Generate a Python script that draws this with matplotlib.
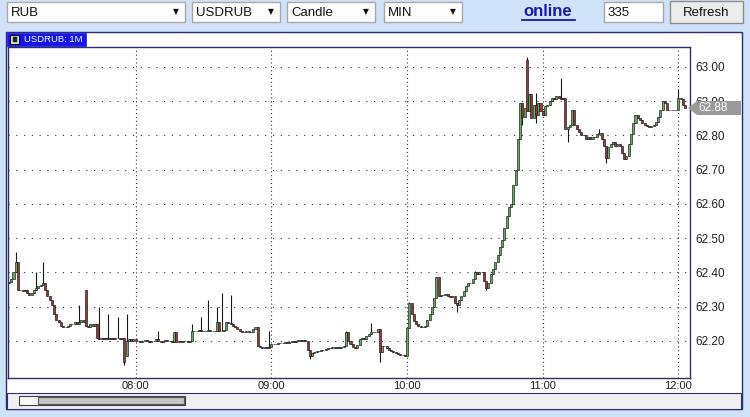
import numpy as np
import pandas as pd
import matplotlib
matplotlib.use("Agg")
from matplotlib import pyplot as plt
import matplotlib.dates as mdates
from matplotlib.patches import Rectangle, Polygon
from matplotlib.transforms import blended_transform_factory

plt.rcParams["font.family"] = ["Liberation Sans", "DejaVu Sans"]

# 1-minute USDRUB closes from 07:04
closes = [
    62.372, 62.38, 62.40, 62.43, 62.35, 62.35, 62.345, 62.35, 62.34, 62.333,
    62.34, 62.35, 62.355, 62.36, 62.362, 62.37, 62.35, 62.33, 62.32, 62.305,
    62.28, 62.26, 62.255, 62.245, 62.24, 62.24, 62.245, 62.25, 62.25, 62.255,
    62.25, 62.255, 62.26, 62.255, 62.245, 62.24, 62.25, 62.245, 62.25, 62.21,
    62.205, 62.21, 62.205, 62.21, 62.205, 62.21, 62.205, 62.21, 62.21, 62.205,
    62.21, 62.14, 62.20, 62.205, 62.20, 62.205, 62.20, 62.20, 62.198, 62.20,
    62.202, 62.20, 62.198, 62.20, 62.20, 62.205, 62.20, 62.198, 62.20, 62.202,
    62.20, 62.20, 62.198, 62.225, 62.197, 62.20, 62.198, 62.20, 62.20, 62.198,
    62.20, 62.23, 62.228, 62.23, 62.232, 62.23, 62.228, 62.23, 62.232, 62.23,
    62.228, 62.23, 62.255, 62.228, 62.23, 62.232, 62.255, 62.252, 62.25, 62.245,
    62.24, 62.235, 62.23, 62.226, 62.226, 62.228, 62.225, 62.226, 62.235, 62.24,
    62.185, 62.182, 62.18, 62.182, 62.18, 62.182, 62.19, 62.192, 62.19, 62.195,
    62.193, 62.195, 62.197, 62.195, 62.198, 62.20, 62.198, 62.20, 62.202, 62.20,
    62.203, 62.20, 62.175, 62.155, 62.165, 62.168, 62.17, 62.172, 62.175, 62.175,
    62.178, 62.18, 62.18, 62.182, 62.18, 62.182, 62.18, 62.182, 62.185, 62.225,
    62.20, 62.19, 62.183, 62.18, 62.188, 62.205, 62.21, 62.205, 62.215, 62.22,
    62.225, 62.227, 62.226, 62.235, 62.168, 62.185, 62.185, 62.18, 62.175, 62.17,
    62.168, 62.165, 62.163, 62.16, 62.158, 62.155, 62.238, 62.31, 62.28, 62.258,
    62.25, 62.245, 62.242, 62.24, 62.245, 62.26, 62.28, 62.30, 62.325, 62.388,
    62.33, 62.335, 62.333, 62.336, 62.33, 62.328, 62.33, 62.31, 62.305, 62.32,
    62.33, 62.345, 62.36, 62.37, 62.37, 62.38, 62.40, 62.395, 62.40, 62.40,
    62.375, 62.355, 62.37, 62.395, 62.41, 62.43, 62.45, 62.475, 62.495, 62.53,
    62.565, 62.59, 62.60, 62.655, 62.70, 62.79, 62.895, 62.855, 62.88, 62.87,
    62.92, 62.85, 62.89, 62.86, 62.895, 62.87, 62.86, 62.885, 62.89, 62.90,
    62.91, 62.905, 62.915, 62.91, 62.905, 62.91, 62.82, 62.825, 62.83, 62.875,
    62.83, 62.82, 62.81, 62.80, 62.80, 62.79, 62.795, 62.79, 62.795, 62.795,
    62.805, 62.808, 62.79, 62.77, 62.735, 62.765, 62.775, 62.78, 62.77, 62.775,
    62.77, 62.75, 62.73, 62.74, 62.775, 62.805, 62.835, 62.86, 62.85, 62.845,
    62.835, 62.83, 62.826, 62.824, 62.828, 62.83, 62.84, 62.855, 62.875, 62.90,
    62.895, 62.875, 62.875, 62.873, 62.875, 62.875, 62.91, 62.905, 62.89, 62.88,
]

# opens that gap away from the previous close
gap_opens = {0: 62.368, 34: 62.35, 52: 62.155, 164: 62.235, 229: 63.02}

# long wicks (index -> price)
wick_highs = {3: 62.46, 12: 62.40, 15: 62.43, 31: 62.305, 40: 62.30, 44: 62.28,
              48: 62.27, 52: 62.28, 66: 62.23, 81: 62.25, 85: 62.27, 88: 62.32,
              92: 62.30, 94: 62.34, 98: 62.335, 115: 62.23, 149: 62.23,
              160: 62.253, 177: 62.315, 206: 62.405, 229: 63.03, 233: 62.925,
              244: 62.968, 261: 62.82, 296: 62.935}
wick_lows = {51: 62.13, 133: 62.148, 164: 62.14, 198: 62.285, 211: 62.35,
             227: 62.83, 233: 62.835, 247: 62.78, 264: 62.72}

price_ticks = [62.2, 62.3, 62.4, 62.5, 62.6, 62.7, 62.8, 62.9, 63.0]
hour_ticks = ["08:00", "09:00", "10:00", "11:00", "12:00"]

BG = "#cfe2fa"
NAVY = "#2e2e6e"
GREEN = "#5fae5f"
RED = "#9a3a36"

times = pd.date_range("2015-01-01 07:04", periods=len(closes), freq="min")
x = mdates.date2num(times)
closes = np.array(closes)
opens = np.r_[closes[0], closes[:-1]]
for k, v in gap_opens.items():
    opens[k] = v
highs = np.maximum(opens, closes)
lows = np.minimum(opens, closes)
for k, v in wick_highs.items():
    highs[k] = v
for k, v in wick_lows.items():
    lows[k] = v

W, H = 750, 417
fig = plt.figure(figsize=(W / 100, H / 100), dpi=100)
fig.patch.set_facecolor(BG)

# background / widgets layer in pixel coords
bg = fig.add_axes([0, 0, 1, 1], zorder=0)
bg.set_xlim(0, W)
bg.set_ylim(H, 0)
bg.axis("off")


def box(x0, y0, w, h, fc="white", ec="#a9a9a9", lw=1.0, z=1):
    bg.add_patch(Rectangle((x0, y0), w, h, facecolor=fc, edgecolor=ec, lw=lw, zorder=z))


# header controls
for (x0, w, label) in [(7, 178, "RUB"), (192, 88, "USDRUB"), (287, 88, "Candle"), (384, 78, "MIN")]:
    box(x0, 2, w, 20)
    bg.text(x0 + 4, 12.5, label, fontsize=9.5, va="center", ha="left", color="#111")
    bg.text(x0 + w - 9, 12, "\u25bc", fontsize=5.5, va="center", ha="center",
            color="#111", family="DejaVu Sans")
bg.text(548, 11, "online", fontsize=12, fontweight="bold", color="#1a1aa6",
        ha="center", va="center")
bg.plot([522, 575], [20, 20], color="#1a1aa6", lw=1.3)
box(604, 2, 59, 20)
bg.text(607, 12.5, "335", fontsize=9.5, va="center", color="#111")
box(670, 1, 73, 22, fc="#ececec", ec="#8c8c8c")
bg.text(706.5, 12.5, "Refresh", fontsize=9.5, va="center", ha="center", color="#111")

# chart panel
box(6, 32, 736, 377, fc="white", ec=NAVY, lw=1.0)
box(7, 33, 79, 13, fc="#1515ee", ec="#1515ee", lw=0.5, z=2)
box(10, 35, 9, 9, fc="#dddddd", ec="#111", lw=0.8, z=3)
box(12.5, 37, 4, 5, fc="#222", ec="#222", lw=0.3, z=4)
bg.text(24, 39.5, "USDRUB: 1M", fontsize=6.8, color="white", va="center", zorder=4)
box(7, 393, 734, 16, fc="#f2eff3", ec=NAVY, lw=0.8, z=2)
box(19, 396, 166, 9, fc="#f8f8f8", ec="#444", lw=0.8, z=3)
box(38, 397, 146, 7, fc="#c4c4c4", ec="#555", lw=0.8, z=4)

# price axes
ax = fig.add_axes([8 / W, 1 - 378 / H, 682 / W, 331 / H], zorder=1)
ax.set_facecolor("white")

up = closes >= opens
ax.vlines(x, lows, highs, color="#1a1a1a", lw=0.8, zorder=2)
bw = 0.9 / 1440
ax.bar(x[up], closes[up] - opens[up], bottom=opens[up], width=bw,
       color=GREEN, edgecolor="#1a1a1a", linewidth=0.45, zorder=3)
ax.bar(x[~up], opens[~up] - closes[~up], bottom=closes[~up], width=bw,
       color=RED, edgecolor="#1a1a1a", linewidth=0.45, zorder=3)

t0 = times[0]
ax.set_xlim(mdates.date2num(t0 - pd.Timedelta(seconds=26)),
            mdates.date2num(t0 + pd.Timedelta(minutes=301.1)))
ax.set_ylim(62.092, 63.058)

hour_pos = mdates.date2num(pd.to_datetime(["2015-01-01 " + h for h in hour_ticks]))
ax.set_xticks(hour_pos)
ax.set_xticklabels(hour_ticks, fontsize=8, color="#222")
ax.set_yticks(price_ticks)
ax.set_yticklabels([f"{p:.2f}" for p in price_ticks], fontsize=8.5, color="#222")
ax.yaxis.tick_right()
ax.tick_params(axis="both", length=0)
ax.tick_params(axis="y", pad=4)
ax.tick_params(axis="x", pad=2)
ax.xaxis.grid(True, color="#333", lw=0.8, linestyle=(0, (1, 2.5)))
ax.yaxis.grid(True, color="#333", lw=0.8, linestyle=(0, (1, 6)))
ax.set_axisbelow(True)
for s in ax.spines.values():
    s.set_color(NAVY)
    s.set_linewidth(1.0)

# last price tag (covers part of the 62.90 label, as on the terminal)
last = closes[-1]
tr = blended_transform_factory(ax.transAxes, ax.transData)
half = 7 / 342.5
x_tip = 0.997
x_base = 1.0 + 7 / 682
x_end = 1.0 + 51 / 682
tag = Polygon([(x_tip, last), (x_base, last + half), (x_end, last + half),
               (x_end, last - half), (x_base, last - half)],
              closed=True, transform=tr, facecolor="#9a9a9a", edgecolor="none",
              clip_on=False, zorder=6)
ax.add_patch(tag)
ax.text(x_base + 1 / 682, last, f"{last:.2f}", transform=tr, fontsize=8.5,
        color="white", va="center", ha="left", zorder=7, clip_on=False)

fig.savefig("out.png", dpi=100, facecolor=BG)
